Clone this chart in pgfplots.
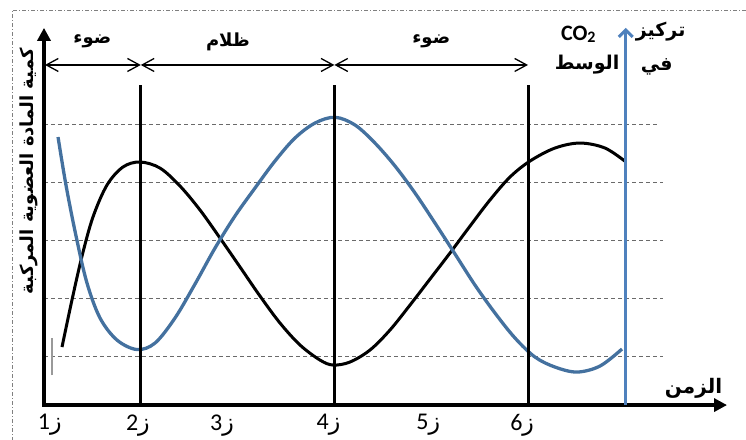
\documentclass[border=0pt]{standalone}
\usepackage{pgfplots}
\pgfplotsset{compat=1.18}
\usetikzlibrary{arrows.meta}
\usepackage{fontspec}
\setmainfont{Carlito}
\newfontfamily\arabicfont[Script=Arabic]{DejaVu Sans}
\TeXXeTstate=1
\definecolor{curveblue}{HTML}{44719F}
\definecolor{axisblue}{HTML}{4F81BD}
\definecolor{gridgray}{HTML}{6A6A6A}
\newcommand{\ar}[1]{{\arabicfont\bfseries\beginR #1\endR}}
\newcommand{\tl}[1]{{\fontsize{24}{26}\selectfont #1\arabicfont ز}}
\begin{document}
\begin{tikzpicture}
\begin{axis}[scale only axis, width=677.6pt, height=377.2pt,
  xmin=1, xmax=8, ymin=0.167, ymax=6.67, axis lines=none, clip=false]
% frame
\draw[gray, dash pattern=on 4pt off 2pt on 1pt off 2pt, line width=0.8pt]
  (axis cs:0.669,-0.6) -- (axis cs:0.669,6.978) -- (axis cs:8.4,6.978);
% grid lines
\draw[gridgray, dash pattern=on 4pt off 3pt, line width=1.2pt] (axis cs:1,1) -- (axis cs:7.39,1);
\draw[gridgray, dash pattern=on 4pt off 3pt, line width=1.2pt] (axis cs:1,2) -- (axis cs:7.39,2);
\draw[gridgray, dash pattern=on 4pt off 3pt, line width=1.2pt] (axis cs:1,3) -- (axis cs:7.39,3);
\draw[gridgray, dash pattern=on 4pt off 3pt, line width=1.2pt] (axis cs:1,4) -- (axis cs:7.39,4);
\draw[gridgray, dash pattern=on 4pt off 3pt, line width=1.2pt] (axis cs:1,5) -- (axis cs:7.33,5);
% small grey bar
\draw[gray!80, line width=2.5pt] (axis cs:1.083,0.68) -- (axis cs:1.083,1.32);
% curves
\addplot[black, line width=3pt, smooth, tension=0.55] coordinates {
 (1.186,1.167) (1.289,1.978) (1.393,2.736) (1.506,3.409) (1.651,3.960)
 (1.816,4.271) (1.992,4.357) (2.198,4.253) (2.405,3.943) (2.612,3.529)
 (2.818,3.047) (3.025,2.547) (3.231,2.047) (3.438,1.581) (3.645,1.202)
 (3.851,0.943) (3.986,0.857) (4.161,0.909) (4.368,1.116) (4.574,1.460)
 (4.781,1.891) (4.988,2.340) (5.194,2.788) (5.401,3.253) (5.607,3.702)
 (5.814,4.098) (6.021,4.374) (6.279,4.598) (6.537,4.684) (6.795,4.598)
 (7.012,4.357)};
\addplot[curveblue, line width=3.3pt, smooth, tension=0.55] coordinates {
 (1.145,4.788) (1.227,3.960) (1.331,3.081) (1.444,2.271) (1.579,1.667)
 (1.754,1.288) (1.961,1.124) (2.147,1.236) (2.353,1.667) (2.560,2.253)
 (2.767,2.874) (2.973,3.426) (3.180,3.909) (3.386,4.374) (3.593,4.771)
 (3.800,5.029) (4.006,5.128) (4.213,4.995) (4.419,4.684) (4.626,4.288)
 (4.833,3.822) (5.039,3.305) (5.246,2.771) (5.452,2.236) (5.659,1.753)
 (5.866,1.322) (6.072,0.995) (6.279,0.822) (6.506,0.736) (6.744,0.840)
 (6.971,1.133)};
% vertical separators
\draw[black, line width=3pt] (axis cs:2,0.167) -- (axis cs:2,5.68);
\draw[black, line width=3pt] (axis cs:4,0.167) -- (axis cs:4,5.68);
\draw[black, line width=3pt] (axis cs:6,0.167) -- (axis cs:6,5.68);
% axes
\draw[black, line width=4pt, line join=miter,
  {Triangle[length=13pt,width=13pt]}-{Triangle[length=13pt,width=13pt]}]
  (axis cs:1,6.67) -- (axis cs:1,0.167) -- (axis cs:8.056,0.167);
\draw[axisblue, line width=3pt, -{Straight Barb[length=7pt,width=14pt]}]
  (axis cs:7.01,0.167) -- (axis cs:7.01,6.67);
% period arrows
\draw[black, line width=1.3pt, {Straight Barb[length=12pt,width=13pt]}-{Straight Barb[length=12pt,width=13pt]}]
  (axis cs:1.01,6.03) -- (axis cs:2,6.03);
\draw[black, line width=1.3pt, {Straight Barb[length=12pt,width=13pt]}-{Straight Barb[length=12pt,width=13pt]}]
  (axis cs:2,6.03) -- (axis cs:4,6.03);
\draw[black, line width=1.3pt, {Straight Barb[length=12pt,width=13pt]}-{Straight Barb[length=12pt,width=13pt]}]
  (axis cs:4,6.03) -- (axis cs:6,6.03);
% period labels
\node[font=\fontsize{18}{20}\selectfont] at (axis cs:1.50,6.43) {\ar{ضوء}};
\node[font=\fontsize{18}{20}\selectfont] at (axis cs:2.90,6.43) {\ar{ظلام}};
\node[font=\fontsize{18}{20}\selectfont] at (axis cs:5.00,6.43) {\ar{ضوء}};
% CO2 label
\node[font=\fontsize{22}{24}\selectfont\bfseries] at (axis cs:6.52,6.56) {CO\raisebox{-0.25ex}{\fontsize{16}{18}\selectfont 2}};
\node[font=\fontsize{19}{21}\selectfont] at (axis cs:6.61,6.04) {\ar{الوسط}};
\node[font=\fontsize{19}{21}\selectfont] at (axis cs:7.37,6.61) {\ar{تركيز}};
\node[font=\fontsize{19}{21}\selectfont] at (axis cs:7.33,5.99) {\ar{في}};
% time label
\node[font=\fontsize{20}{22}\selectfont] at (axis cs:7.71,0.45) {\ar{الزمن}};
% y label
\node[rotate=90, font=\fontsize{18}{20}\selectfont] at (axis cs:0.84,4.20) {\ar{كمية المادة العضوية المركبة}};
% tick labels
\node at (axis cs:1.06,-0.18) {\tl{1}};
\node at (axis cs:1.97,-0.18) {\tl{2}};
\node at (axis cs:2.84,-0.18) {\tl{3}};
\node at (axis cs:3.94,-0.18) {\tl{4}};
\node at (axis cs:4.97,-0.18) {\tl{5}};
\node at (axis cs:5.94,-0.18) {\tl{6}};
\coordinate (BL) at (axis cs:0.5455,-0.419);
\coordinate (TR) at (axis cs:8.252,7.150);
\end{axis}
\pgfresetboundingbox
\useasboundingbox (BL) rectangle (TR);
\end{tikzpicture}
\end{document}
